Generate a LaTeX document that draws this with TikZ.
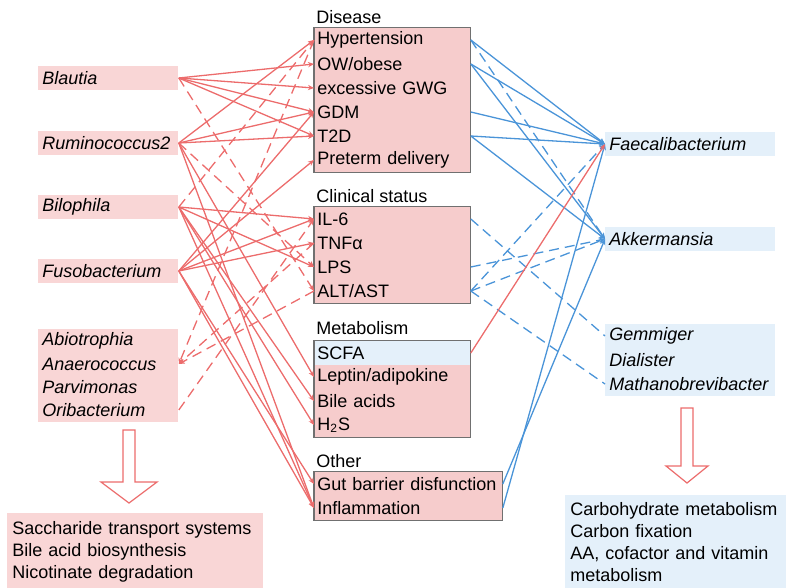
\documentclass[tikz,border=0pt]{standalone}
\usepackage{fontspec}
\setmainfont{Liberation Sans}
\usetikzlibrary{arrows.meta}
\definecolor{pinkbox}{RGB}{246,204,204}
\definecolor{pinklight}{RGB}{249,214,214}
\definecolor{bluebox}{RGB}{228,240,250}
\definecolor{redline}{RGB}{236,108,108}
\definecolor{blueline}{RGB}{74,148,216}
\definecolor{frame}{RGB}{112,112,112}
\tikzset{
  every node/.style={font=\fontsize{9}{11}\selectfont},
  outrow/.style={anchor=west,fill=pinkbox,minimum height=12pt,inner ysep=0pt,inner xsep=1.5pt,text width=75pt},
  bugrow/.style={anchor=west,fill=pinklight,minimum height=11.6pt,inner ysep=0pt,inner xsep=2pt,text width=66pt,font=\fontsize{9}{11}\selectfont\itshape},
  goodrow/.style={bugrow,fill=bluebox,text width=81pt,minimum height=12.1pt},
  grouptitle/.style={anchor=west,inner sep=1pt},
  boxline/.style={draw=frame,line width=0.6pt},
  uplink/.style={draw=redline,line width=0.65pt,-{Stealth[length=3pt,width=2.6pt]}},
  downlink/.style={draw=blueline,line width=0.65pt,-{Stealth[length=3pt,width=2.6pt]}},
  weak/.style={dash pattern=on 5pt off 3pt},
  fatarrow/.style={draw=redline,line width=0.6pt,fill=white}
}
\begin{document}
\begin{tikzpicture}[x=0.5pt,y=-0.5pt]
\useasboundingbox (0,0) rectangle (786,588);
% outcomes in the middle
\node[grouptitle] (disease) at (314,17) {Disease};
\node[outrow] (hyp) at (314,40) {Hypertension};
\node[outrow] (ow) at (314,64) {OW/obese};
\node[outrow] (gwg) at (314,88) {excessive GWG};
\node[outrow] (gdm) at (314,112) {GDM};
\node[outrow] (t2d) at (314,136) {T2D};
\node[outrow] (pre) at (314,160) {Preterm delivery};
\draw[boxline] (hyp.north west) rectangle (pre.south east);
\node[grouptitle] (clinical) at (314,196) {Clinical status};
\node[outrow] (il6) at (314,219) {IL-6};
\node[outrow] (tnf) at (314,243) {TNFα};
\node[outrow] (lps) at (314,267) {LPS};
\node[outrow] (alt) at (314,291) {ALT/AST};
\draw[boxline] (il6.north west) rectangle (alt.south east);
\node[grouptitle] (metab) at (314,328) {Metabolism};
\node[outrow,fill=bluebox] (scfa) at (314,353) {SCFA};
\node[outrow] (lep) at (314,377) {Leptin/adipokine};
\node[outrow] (bile) at (314,401) {Bile acids};
\node[outrow] (h2s) at (314,425) {H\textsubscript{2}S};
\draw[boxline] (scfa.north west) rectangle (h2s.south east);
\node[grouptitle] (other) at (314,461) {Other};
\node[outrow,text width=91pt] (gut) at (314,484) {Gut barrier disfunction};
\node[outrow,text width=91pt] (inf) at (314,508) {Inflammation};
\draw[boxline] (gut.north west) rectangle (inf.south east);
% bacteria on the left
\node[bugrow] (blau) at (38,78) {Blautia};
\node[bugrow] (rum) at (38,143) {Ruminococcus2};
\node[bugrow] (bil) at (38,207) {Bilophila};
\node[bugrow] (fus) at (38,271) {Fusobacterium};
\node[bugrow] (abi) at (38,341) {Abiotrophia};
\node[bugrow] (ana) at (38,364) {Anaerococcus};
\node[bugrow] (par) at (38,387) {Parvimonas};
\node[bugrow] (ori) at (38,410) {Oribacterium};
% bacteria on the right
\node[goodrow] (fae) at (605,144) {Faecalibacterium};
\node[goodrow] (akk) at (605,239) {Akkermansia};
\node[goodrow] (gem) at (605,336) {Gemmiger};
\node[goodrow] (dia) at (605,360) {Dialister};
\node[goodrow] (mat) at (605,384) {Mathanobrevibacter};
% functions at the bottom
\node[anchor=north west,fill=pinklight,text width=123pt,inner sep=2.5pt,minimum height=38pt] (leftfun) at (7,513)
  {Saccharide transport systems\\Bile acid biosynthesis\\Nicotinate degradation};
\node[anchor=north west,fill=bluebox,text width=107pt,inner sep=2.5pt,minimum height=47pt] (rightfun) at (565,495)
  {Carbohydrate metabolism\\Carbon fixation\\AA, cofactor and vitamin\\metabolism};
\draw[fatarrow] (123,430) -- (135,430) -- (135,482) -- (157,482) -- (129,503) -- (101,482) -- (123,482) -- cycle;
\draw[fatarrow] (681,408) -- (693,408) -- (693,466) -- (708,466) -- (687,483) -- (666,466) -- (681,466) -- cycle;
% left links
\foreach \tg in {ow,gwg,gdm,t2d} \draw[uplink] (blau.east) -- (\tg.west);
\foreach \tg in {hyp,gdm,t2d,lep,inf} \draw[uplink] (rum.east) -- (\tg.west);
\foreach \tg in {il6,lps,bile,h2s,inf} \draw[uplink] (bil.east) -- (\tg.west);
\foreach \tg in {gdm,pre,il6,tnf,gut,inf} \draw[uplink] (fus.east) -- (\tg.west);
\draw[uplink,weak] (blau.east) -- (alt.west);
\draw[uplink,weak] (rum.east) -- (lps.west);
\draw[uplink,weak] (bil.east) -- (hyp.west);
\foreach \sr in {hyp,tnf,alt} \draw[uplink,weak] (\sr.west) -- (ana.east);
\draw[uplink,weak] (ori.east) -- (il6.west);
% right links
\foreach \sr in {hyp,ow,gdm,t2d,inf} \draw[downlink] (\sr.east) -- (fae.west);
\foreach \sr in {ow,t2d,gut} \draw[downlink] (\sr.east) -- (akk.west);
\foreach \sr in {hyp,lps,alt} \draw[downlink,weak] (\sr.east) -- (akk.west);
\draw[downlink,weak] (alt.east) -- (fae.west);
\draw[downlink,weak,-] (il6.east) -- (gem.west);
\draw[downlink,weak,-] (alt.east) -- (mat.west);
\draw[uplink] (scfa.east) -- (fae.west);
\end{tikzpicture}
\end{document}
